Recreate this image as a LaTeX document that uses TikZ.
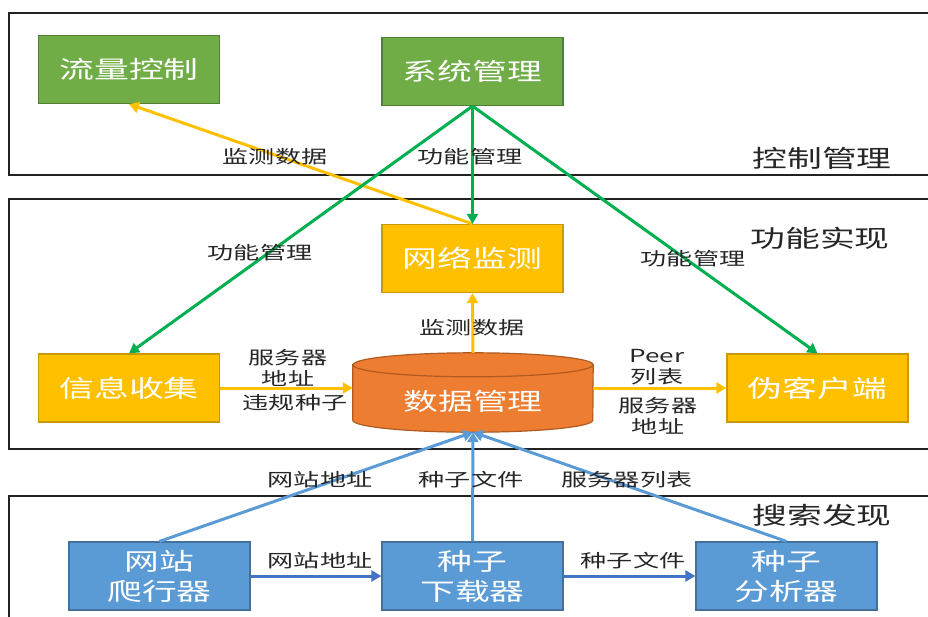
\documentclass[tikz,border=0pt]{standalone}
\usepackage{fontspec}
\setmainfont{Noto Sans CJK SC}[FakeStretch=1.45]
\usetikzlibrary{arrows.meta}

\definecolor{ctrlgreen}{HTML}{70AD47}
\definecolor{ctrlgreenline}{HTML}{507E32}
\definecolor{funcyellow}{HTML}{FFC000}
\definecolor{funcyellowline}{HTML}{C99A0A}
\definecolor{dborange}{HTML}{ED7D31}
\definecolor{dborangeline}{HTML}{AE5A21}
\definecolor{srchblue}{HTML}{5B9BD5}
\definecolor{srchblueline}{HTML}{41719C}
\definecolor{linkgreen}{HTML}{00B050}
\definecolor{linkblue}{HTML}{4472C4}
\definecolor{framegray}{HTML}{222222}
\definecolor{labelgray}{HTML}{262626}

\newcommand\dgboxfont{\fontsize{24}{30}\selectfont}
\newcommand\dglabelfont{\fontsize{18}{21}\selectfont}

\begin{document}
\begin{tikzpicture}[x=1pt,y=-1pt,
  panel/.style={draw=framegray,line width=1.5pt},
  basebox/.style={rectangle,line width=1.2pt,minimum width=181pt,minimum height=68pt,
    inner sep=0pt,text=white,font=\dgboxfont,align=center},
  greenbox/.style={basebox,fill=ctrlgreen,draw=ctrlgreenline},
  yellowbox/.style={basebox,fill=funcyellow,draw=funcyellowline},
  bluebox/.style={basebox,fill=srchblue,draw=srchblueline},
  tip/.style={-{Triangle[length=10pt,width=11pt]}},
  greenlink/.style={tip,draw=linkgreen,line width=3pt},
  yellowlink/.style={tip,draw=funcyellow,line width=3pt},
  bluelink/.style={tip,draw=srchblue,line width=3pt},
  flowlink/.style={tip,draw=linkblue,line width=3pt},
  lbl/.style={font=\dglabelfont,text=labelgray,align=center,inner sep=0pt},
  panellbl/.style={font=\dgboxfont,text=labelgray,inner sep=0pt}]

\useasboundingbox (0,0) rectangle (928,616);
\clip (0,0) rectangle (928,616);

% three layers
\draw[panel] (9,13) rectangle (945,175);
\draw[panel] (9,199) rectangle (945,449);
\draw[panel] (9,496) rectangle (945,640);

\node[panellbl] (lctrl) at (822,158) {控制管理};
\node[panellbl] (lfunc) at (820,238) {功能实现};
\node[panellbl] (lsrch) at (822,515) {搜索发现};

% control layer
\node[greenbox] (flow) at (129,69.5) {流量控制};
\node[greenbox] (sys) at (472.5,71.5) {系统管理};

% function layer
\node[yellowbox] (mon) at (472.5,258.5) {网络监测};
\node[yellowbox] (collect) at (129,388) {信息收集};
\node[yellowbox] (fake) at (817.5,388) {伪客户端};

% data store (cylinder)
\node[minimum width=240pt,minimum height=79pt,inner sep=0pt] (db) at (473,392.5) {};
\path[fill=dborange,draw=dborangeline,line width=1.2pt]
  ([yshift=-12pt]db.north west) -- ([yshift=12pt]db.south west)
  arc[start angle=180,end angle=360,x radius=120pt,y radius=12pt]
  -- ([yshift=-12pt]db.north east)
  arc[start angle=0,end angle=180,x radius=120pt,y radius=12pt] -- cycle;
\draw[dborangeline,line width=1.2pt] ([yshift=-12pt]db.north west)
  arc[start angle=180,end angle=360,x radius=120pt,y radius=12pt];
\node[text=white,font=\dgboxfont,inner sep=0pt] (dbtext) at ([yshift=-9pt]db.center) {数据管理};

% search layer
\node[bluebox] (crawl) at (159.5,576) {网站\\爬行器};
\node[bluebox] (dl) at (472.5,576) {种子\\下载器};
\node[bluebox] (ana) at (786.5,576) {种子\\分析器};

% data flows
\draw[yellowlink] (mon.north) -- (flow.south);
\draw[greenlink] (sys.south) -- (mon.north);
\draw[greenlink] (sys.south) -- (collect.north);
\draw[greenlink] (sys.south) -- (fake.north);
\draw[yellowlink] (db.north) -- (mon.south);
\draw[yellowlink] (collect.east) -- (collect.east -| db.west);
\draw[yellowlink] (fake.west -| db.east) -- (fake.west);
\draw[bluelink] (crawl.north) -- (db.south);
\draw[bluelink] (dl.north) -- (db.south);
\draw[bluelink] (ana.north) -- (db.south);
\draw[flowlink] (crawl.east) -- (dl.west);
\draw[flowlink] (dl.east) -- (ana.west);

% connector labels
\node[lbl] (t1) at (275,157) {监测数据};
\node[lbl] (t2) at (470,157) {功能管理};
\node[lbl] (t3) at (260,253) {功能管理};
\node[lbl] (t4) at (693,259) {功能管理};
\node[lbl] (t5) at (472,328) {监测数据};
\node[lbl] (t6) at (288,367.5) {服务器\\地址};
\node[lbl] (t7) at (295,403) {违规种子};
\node[lbl] (t8) at (657,367) {Peer\\列表};
\node[lbl] (t9) at (658,416) {服务器\\地址};
\node[lbl] (t10) at (320,480) {网站地址};
\node[lbl] (t11) at (471,480) {种子文件};
\node[lbl] (t12) at (627,480) {服务器列表};
\node[lbl] (t13) at (320,561) {网站地址};
\node[lbl] (t14) at (633,561) {种子文件};
\end{tikzpicture}
\end{document}
